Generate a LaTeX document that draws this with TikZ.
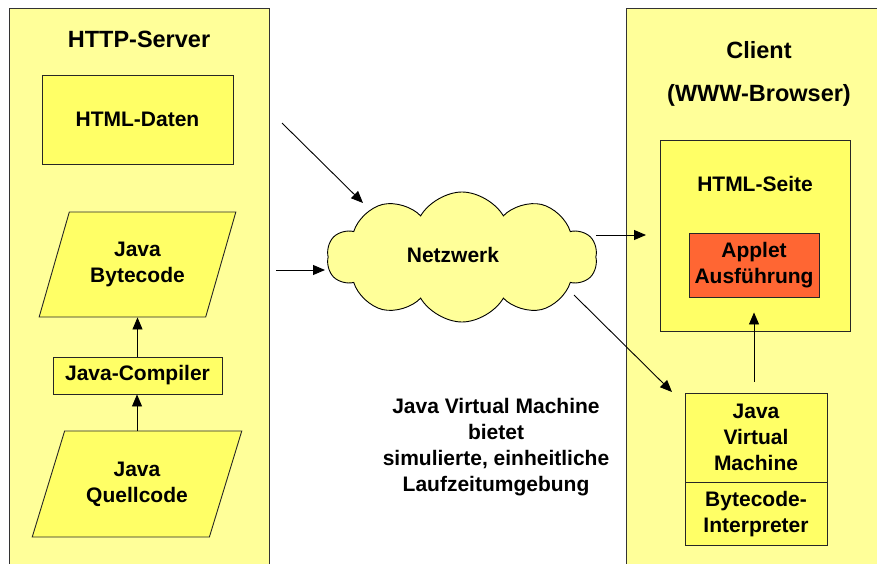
\documentclass[tikz,border=0pt]{standalone}
\usepackage{fontspec}
\setmainfont{Liberation Sans}
\usetikzlibrary{arrows.meta,positioning,shapes.geometric,shapes.symbols}
\definecolor{panelyel}{RGB}{255,255,153}
\definecolor{boxyel}{RGB}{255,255,102}
\definecolor{appred}{RGB}{255,102,51}
\tikzset{
  panel/.style={draw=black!80, fill=panelyel, line width=0.9pt},
  box/.style={draw=black!85, fill=boxyel, line width=0.9pt, inner sep=0pt,
              align=center, font=\bfseries\fontsize{21}{26}\selectfont},
  para/.style={box, trapezium, trapezium stretches=true},
  lab/.style={align=center, font=\bfseries\fontsize{21}{26}\selectfont},
  ttl/.style={align=center, font=\bfseries\fontsize{23.5}{28}\selectfont},
  arr/.style={-{Triangle[length=12pt,width=10pt]}, line width=0.9pt},
}
\begin{document}
\begin{tikzpicture}[x=1pt, y=-1pt]
  \useasboundingbox (0,0) rectangle (877,564);
  \clip (0,0) rectangle (877,564);
  \draw[panel] (9,8) rectangle (269,590);
  \draw[panel] (626,8) rectangle (895,590);
  \node[ttl] (server) at (139,39) {HTTP-Server};
  \node[box, minimum width=191pt, minimum height=89pt] (daten) at (137.5,119.5) {HTML-Daten};
  \node[para, trapezium left angle=65, trapezium right angle=115,
        minimum width=197pt, minimum height=105pt] (byte) at (137.5,264.5) {Java\\Bytecode};
  \node[box, minimum width=169pt, minimum height=37pt] (comp) at (137.5,375.5) {Java-Compiler};
  \node[para, trapezium left angle=63, trapezium right angle=117,
        minimum width=210pt, minimum height=106pt] (src) at (137,484) {Java\\Quellcode};
  \draw[arr] (src.north) -- (src.north |- comp.south);
  \draw[arr] (comp.north) -- (comp.north |- byte.south);
  \node[cloud, cloud puffs=10, cloud puff arc=120, aspect=2.1, draw=black, fill=panelyel,
        line width=0.9pt, minimum width=270pt, minimum height=130pt, inner sep=0pt,
        lab] (net) at (462,257) {};
  \node[lab] (nettxt) at (453,255) {Netzwerk};
  \node[lab] (jvmtxt) at (496,447) {Java Virtual Machine\\bietet\\simulierte, einheitliche\\Laufzeitumgebung};
  \node[ttl] (client) at (759,50) {Client};
  \node[ttl] (browser) at (759,95) {(WWW-Browser)};
  \node[box, minimum width=190pt, minimum height=191pt] (seite) at (755,235.5) {};
  \node[lab] (seitetxt) at (755,184) {HTML-Seite};
  \node[box, fill=appred, minimum width=130pt, minimum height=64pt] (applet) at (754,265) {Applet\\Ausführung};
  \node[box, minimum width=142pt, minimum height=89pt] (jvm) at (756,437.5) {Java\\Virtual\\Machine};
  \node[box, minimum width=142pt, minimum height=63pt, below=0pt of jvm] (interp) {Bytecode-\\Interpreter};
  \draw[arr, shorten <=11pt, shorten >=15pt] (jvm.north -| applet.south) -- (applet.south);
  \coordinate (d1) at (282,123);
  \coordinate (d2) at (363,203);
  \coordinate (b1) at (276,270);
  \coordinate (b2) at (325,270);
  \coordinate (s1) at (596,235);
  \coordinate (s2) at (646,235);
  \coordinate (j1) at (574,295);
  \coordinate (j2) at (672,392);
  \draw[arr] (d1) -- (d2);
  \draw[arr] (b1) -- (b2);
  \draw[arr] (s1) -- (s2);
  \draw[arr] (j1) -- (j2);
\end{tikzpicture}
\end{document}
